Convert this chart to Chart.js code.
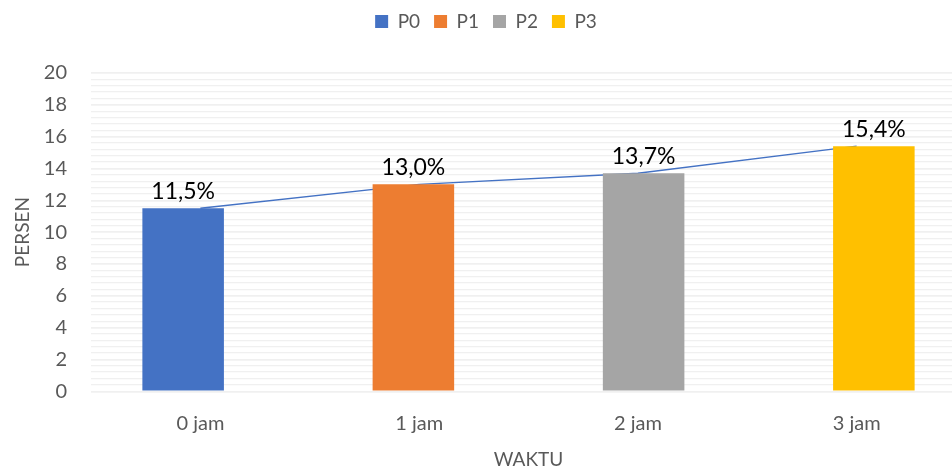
<!DOCTYPE html>
<html>
<head>
<meta charset="utf-8">
<script src="https://cdn.jsdelivr.net/npm/chart.js@4"></script>
<style>
  html, body { margin: 0; padding: 0; background: #fff; overflow: hidden; }
  #wrap { width: 976px; height: 470px; position: relative; }
</style>
</head>
<body>
<div id="wrap"><canvas id="chart"></canvas></div>
<script>
// Data
const waktu = ['0 jam', '1 jam', '2 jam', '3 jam'];
const seri = ['P0', 'P1', 'P2', 'P3'];
const persen = [11.5, 13.0, 13.7, 15.4];
const warna = ['#4472C4', '#ED7D31', '#A5A5A5', '#FFC000'];
const yTicks = { min: 0, max: 20, step: 2, minorStep: 0.4 };

const FONT = 'Lato, "Open Sans", sans-serif';
const GREY = '#595959';

// one bar dataset per series, value only in its own category
const barSets = seri.map((nama, i) => ({
  label: nama,
  data: persen.map((v, j) => (j === i ? v : null)),
  backgroundColor: warna[i],
  borderWidth: 0,
  categoryPercentage: 0.21,
  barPercentage: 7.1,
  order: 1
}));

const lineSet = {
  type: 'line',
  label: 'tren',
  data: persen,
  borderColor: '#4472C4',
  borderWidth: 1.3,
  pointRadius: 0,
  tension: 0,
  order: 2
};

// labels above bars, e.g. 11,5%
const barLabels = {
  id: 'barLabels',
  afterDatasetsDraw(chart) {
    const ctx = chart.ctx;
    ctx.save();
    ctx.font = '23px ' + FONT;
    ctx.fillStyle = '#000';
    ctx.textAlign = 'center';
    ctx.textBaseline = 'bottom';
    chart.data.datasets.forEach((ds, i) => {
      if (ds.type === 'line') return;
      const meta = chart.getDatasetMeta(i);
      meta.data.forEach((bar, j) => {
        const v = ds.data[j];
        if (v == null) return;
        ctx.fillText(v.toFixed(1).replace('.', ',') + '%', bar.x, bar.y - 5);
      });
    });
    ctx.restore();
  }
};

// extra room between legend and plot
const legendGap = {
  id: 'legendGap',
  beforeInit(chart) {
    const fit = chart.legend.fit;
    chart.legend.fit = function () {
      fit.call(this);
      this.height += 32;
    };
  }
};

new Chart(document.getElementById('chart'), {
  type: 'bar',
  data: {
    labels: waktu,
    datasets: [...barSets, lineSet]
  },
  options: {
    responsive: true,
    maintainAspectRatio: false,
    animation: false,
    layout: { padding: { top: -2, right: 10, left: 6, bottom: -1 } },
    plugins: {
      tooltip: { enabled: false },
      legend: {
        position: 'top',
        labels: {
          filter: item => item.datasetIndex < seri.length,
          boxWidth: 13,
          boxHeight: 13,
          padding: 14,
          color: GREY,
          font: { family: FONT, size: 19 }
        }
      }
    },
    scales: {
      x: {
        grid: { display: false },
        border: { display: false },
        ticks: { color: GREY, font: { family: FONT, size: 20, lineHeight: 1 }, padding: 14 },
        title: { display: true, text: 'WAKTU', color: GREY, font: { family: FONT, size: 19 }, padding: { top: 1, bottom: 0 } }
      },
      y: {
        min: yTicks.min,
        max: yTicks.max,
        grid: { color: '#D9D9D9', drawTicks: false, lineWidth: 1.3 },
        border: { display: false },
        ticks: { stepSize: yTicks.step, color: GREY, font: { family: FONT, size: 20 }, padding: 24 },
        title: { display: true, text: 'PERSEN', color: GREY, font: { family: FONT, size: 19 }, padding: { top: 5, bottom: -14 } }
      },
      yMinor: {
        position: 'right',
        min: yTicks.min,
        max: yTicks.max,
        grid: { color: '#F0F0F0', drawTicks: false, lineWidth: 1.3 },
        border: { display: false },
        ticks: { display: false, stepSize: yTicks.minorStep },
        afterFit: s => { s.width = 0; }
      }
    }
  },
  plugins: [barLabels, legendGap]
});
</script>
</body>
</html>
